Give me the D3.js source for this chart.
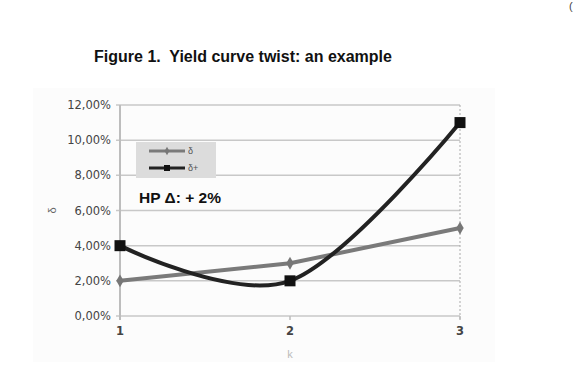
<!DOCTYPE html>
<html>
<head>
<meta charset="utf-8">
<script src="https://cdn.jsdelivr.net/npm/d3@7"></script>
<style>
  body { margin:0; background:#fff; }
  svg { display:block; font-family:"Liberation Sans", Arial, sans-serif; }
</style>
</head>
<body>
<svg width="579" height="365"></svg>
<script>
// data
const ks = [1, 2, 3]
const delta = [2, 3, 5]
const deltaPlus = [4, 2, 11]
const yTicks = [0, 2, 4, 6, 8, 10, 12]
const seriesNames = ["δ", "δ+"]

const svg = d3.select("svg")
const margin = {top:105, left:120, right:119, bottom:49}
const width = 579 - margin.left - margin.right
const height = 365 - margin.top - margin.bottom

// faint chart backdrop
svg.append("rect")
    .attr("x", 33).attr("y", 88)
    .attr("width", 462).attr("height", 274)
    .attr("fill", "#fcfcfc")

svg.append("text")
    .attr("x", 243).attr("y", 62)
    .attr("text-anchor", "middle")
    .style("font-size", "16px")
    .style("font-weight", "bold")
    .attr("fill", "#111")
    .text("Figure 1.\u00a0 Yield curve twist: an example")

svg.append("text")
    .attr("x", 569).attr("y", 10)
    .style("font-size", "11px")
    .attr("fill", "#444")
    .text("(")

const chart = svg.append("g")
    .attr("transform", `translate(${margin.left},${margin.top})`)

const x = d3.scaleLinear().domain([1, 3]).range([0, width])
const y = d3.scaleLinear().domain([0, 12]).range([height, 0])

// horizontal grid
chart.selectAll(".grid")
    .data(yTicks)
    .join("line")
    .attr("x1", -4).attr("x2", width)
    .attr("y1", d=>y(d)).attr("y2", d=>y(d))
    .attr("stroke", "#c8c8c8")
    .attr("stroke-width", 1.5)

// y axis line
chart.append("line")
    .attr("x1", 0).attr("x2", 0)
    .attr("y1", 0).attr("y2", height + 4)
    .attr("stroke", "#bdbdbd").attr("stroke-width", 2)

// dotted right edge
chart.append("line")
    .attr("x1", width).attr("x2", width)
    .attr("y1", 0).attr("y2", height + 4)
    .attr("stroke", "#aaa").attr("stroke-width", 1)
    .attr("stroke-dasharray", "2,2")

// x tick marks
chart.selectAll(".xtick")
    .data(ks)
    .join("line")
    .attr("x1", d=>x(d)).attr("x2", d=>x(d))
    .attr("y1", height).attr("y2", height + 4)
    .attr("stroke", "#bdbdbd").attr("stroke-width", 1.5)

const fmt = v => d3.format(".2f")(v).replace(".", ",") + "%"

chart.selectAll(".ylab")
    .data(yTicks)
    .join("text")
    .attr("x", -9)
    .attr("y", d=>y(d))
    .attr("dy", "0.35em")
    .attr("text-anchor", "end")
    .style("font-family", "'DejaVu Sans', sans-serif")
    .style("font-size", "11.5px")
    .attr("fill", "#444")
    .text(fmt)

chart.selectAll(".xlab")
    .data(ks)
    .join("text")
    .attr("x", d=>x(d))
    .attr("y", height + 19)
    .attr("text-anchor", "middle")
    .style("font-family", "'DejaVu Sans', sans-serif")
    .style("font-size", "11.5px")
    .style("font-weight", "bold")
    .attr("fill", "#444")
    .text(d=>d)

// axis titles
chart.append("text")
    .attr("x", width / 2)
    .attr("y", height + 42)
    .attr("text-anchor", "middle")
    .style("font-size", "11px")
    .attr("fill", "#bbb")
    .text("k")

chart.append("text")
    .attr("transform", `translate(-64,${y(6)}) rotate(-90)`)
    .attr("text-anchor", "middle")
    .style("font-size", "11px")
    .attr("fill", "#666")
    .text("δ")

// series
const pts = vals => ks.map((k, i) => [x(k), y(vals[i])])

chart.append("path")
    .attr("d", d3.line()(pts(delta)))
    .attr("fill", "none")
    .attr("stroke", "#7a7a7a")
    .attr("stroke-width", 4)

chart.append("path")
    .attr("d", d3.line().curve(d3.curveCatmullRom.alpha(0))(pts(deltaPlus)))
    .attr("fill", "none")
    .attr("stroke", "#222")
    .attr("stroke-width", 4)

const diamond = d3.symbol().type(d3.symbolDiamond).size(48)

chart.selectAll(".dmark")
    .data(pts(delta))
    .join("path")
    .attr("d", diamond)
    .attr("transform", d=>`translate(${d[0]},${d[1]})`)
    .attr("fill", "#777")

chart.selectAll(".smark")
    .data(pts(deltaPlus))
    .join("rect")
    .attr("x", d=>d[0] - 5.5).attr("y", d=>d[1] - 5.5)
    .attr("width", 11).attr("height", 11)
    .attr("fill", "#111")

// legend
const legend = svg.append("g")
legend.append("rect")
    .attr("x", 136).attr("y", 142)
    .attr("width", 80).attr("height", 36)
    .attr("fill", "#dcdcdc")

const legColors = ["#7a7a7a", "#222"]
seriesNames.forEach((name, i) => {
    const ly = 151 + i * 17
    legend.append("line")
        .attr("x1", 149).attr("x2", 185)
        .attr("y1", ly).attr("y2", ly)
        .attr("stroke", legColors[i]).attr("stroke-width", 3)
    if (i === 0) {
        legend.append("path")
            .attr("d", d3.symbol().type(d3.symbolDiamond).size(20))
            .attr("transform", `translate(167,${ly})`)
            .attr("fill", "#777")
    } else {
        legend.append("rect")
            .attr("x", 164).attr("y", ly - 3)
            .attr("width", 6).attr("height", 6)
            .attr("fill", "#111")
    }
    legend.append("text")
        .attr("x", 188).attr("y", ly)
        .attr("dy", "0.35em")
        .style("font-size", "9px")
        .attr("fill", "#555")
        .text(name)
})

svg.append("text")
    .attr("x", 139).attr("y", 203)
    .style("font-size", "15.5px")
    .style("font-weight", "bold")
    .attr("fill", "#111")
    .text("HP Δ: + 2%")
</script>
</body>
</html>
